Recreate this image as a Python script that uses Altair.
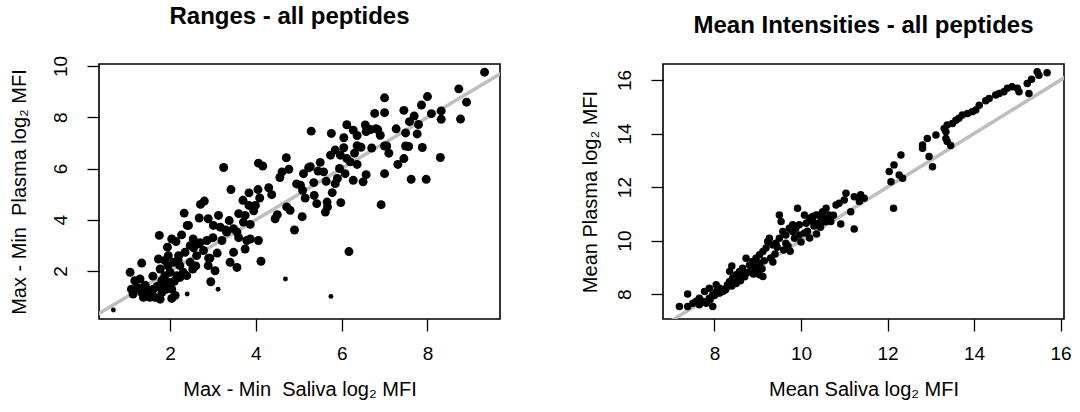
import altair as alt
import pandas as pd

# ---------------- data: left panel (ranges) ----------------
range_saliva = [
    9.33, 8.73, 8.91, 8.77, 8.32, 8.32, 8.00, 7.86, 8.09, 7.45, 7.00, 7.00, 6.77, 7.69, 7.58, 7.79,
    7.27, 7.49, 7.76, 6.80, 6.84, 6.67, 6.55, 6.57, 7.00, 7.05, 7.49, 7.56, 7.88, 7.45, 7.31, 8.30,
    7.62, 7.97, 7.00, 6.92, 6.17, 6.12, 6.27, 6.36, 6.36, 6.45, 6.05, 5.76, 5.29, 6.05, 5.85, 5.74,
    5.97, 6.12, 6.20, 6.36, 5.50, 5.27, 5.11, 5.23, 5.58, 5.35, 5.64, 5.85, 5.90, 6.08, 6.27, 6.50,
    6.57, 5.04, 5.09, 5.15, 5.36, 5.42, 5.66, 5.67, 5.62, 5.78, 5.98, 5.08, 4.72, 4.80, 4.45, 4.71,
    4.77, 4.61, 4.56, 4.06, 4.16, 3.25, 4.30, 4.37, 4.05, 4.09, 3.84, 3.70, 3.84, 3.99, 3.42, 2.80,
    2.71, 2.33, 2.40, 2.68, 2.89, 3.13, 3.01, 3.17, 3.38, 3.60, 3.75, 3.87, 3.71, 3.48, 3.56, 3.32,
    3.21, 3.79, 4.06, 4.12, 3.40, 3.56, 3.48, 3.75, 3.87, 1.75, 2.04, 2.14, 2.27, 2.43, 2.54, 2.66,
    2.86, 2.47, 2.35, 2.62, 2.78, 2.93, 2.89, 3.05, 2.95, 2.53, 1.94, 1.96, 1.88, 1.77, 1.73, 2.08,
    2.19, 2.23, 2.31, 2.16, 2.00, 1.88, 1.81, 1.73, 1.61, 1.81, 1.92, 2.04, 1.77, 1.65, 1.46, 1.34,
    1.38, 1.30, 1.18, 1.07, 1.10, 1.14, 1.53, 1.34, 2.04, 2.23, 2.39, 2.47, 1.85, 1.70, 1.55, 1.42,
    1.25, 2.10, 2.55, 2.70, 3.00, 3.30, 3.10, 2.60, 2.20, 1.95, 6.70, 6.90, 7.10, 6.30, 5.95, 5.45,
    4.95, 4.50, 4.90, 3.60, 3.95, 2.90, 1.60, 1.50, 1.98, 2.12,
]
range_plasma = [
    9.76, 9.11, 8.59, 7.93, 8.25, 7.92, 8.81, 8.48, 8.14, 8.27, 8.76, 8.18, 8.15, 8.05, 7.83, 7.72,
    7.55, 7.39, 7.35, 7.55, 7.52, 7.52, 7.70, 7.44, 6.88, 6.88, 6.88, 6.86, 6.82, 6.39, 6.16, 6.43,
    5.58, 5.58, 5.80, 4.59, 2.76, 7.71, 7.50, 7.29, 6.89, 6.83, 7.20, 7.37, 7.46, 6.81, 6.72, 6.52,
    6.52, 6.39, 6.26, 6.16, 6.24, 6.07, 5.80, 6.03, 5.87, 5.45, 5.50, 5.41, 5.61, 5.80, 5.54, 5.48,
    5.76, 5.35, 5.15, 4.85, 4.95, 4.63, 4.69, 4.50, 4.30, 5.06, 4.67, 4.12, 4.50, 4.37, 4.04, 6.42,
    5.97, 5.87, 5.65, 6.21, 6.10, 6.04, 5.25, 4.98, 5.18, 4.85, 5.05, 4.76, 4.56, 4.56, 5.18, 4.73,
    4.60, 4.26, 3.78, 4.07, 4.04, 4.17, 3.78, 3.71, 3.97, 4.24, 4.17, 3.82, 3.91, 3.65, 3.52, 3.52,
    3.19, 3.19, 3.19, 2.38, 2.34, 2.14, 2.73, 2.86, 3.25, 3.39, 3.25, 3.15, 3.41, 3.78, 3.25, 3.06,
    3.19, 2.99, 2.73, 2.60, 2.80, 2.50, 2.21, 2.01, 1.58, 2.08, 2.93, 2.60, 2.41, 2.08, 2.47, 2.34,
    2.41, 2.21, 1.95, 1.82, 1.95, 1.82, 1.62, 1.42, 1.29, 1.16, 1.29, 1.29, 0.90, 0.97, 1.29, 1.16,
    0.97, 1.69, 1.62, 1.95, 1.29, 1.10, 0.97, 2.31, 0.93, 1.75, 1.82, 2.34, 1.50, 1.40, 1.20, 1.45,
    1.35, 1.60, 2.90, 3.10, 3.30, 3.60, 2.70, 2.20, 2.60, 2.20, 6.80, 7.30, 6.60, 6.60, 6.00, 5.90,
    5.40, 4.20, 3.60, 3.30, 4.35, 2.50, 1.80, 1.05, 1.55, 1.05,
]
# smaller dots in the left panel
range_small_saliva = [4.69, 5.75, 3.12, 0.68, 2.40]
range_small_plasma = [1.69, 1.01, 1.29, 0.48, 1.10]

# ---------------- data: right panel (mean intensities) ----------------
mean_saliva = [
    15.69, 15.46, 15.50, 15.33, 15.23, 15.27, 15.04, 15.00, 14.88, 14.77, 14.69, 14.58, 14.50, 14.35,
    14.27, 14.12, 14.04, 13.96, 13.85, 13.73, 13.65, 13.58, 13.50, 13.38, 13.31, 13.35, 13.35, 13.38,
    13.46, 13.12, 12.92, 12.81, 12.81, 12.96, 13.04, 12.31, 12.15, 12.04, 12.08, 12.27, 12.35, 12.14,
    11.46, 11.38, 11.35, 11.23, 11.04, 11.00, 10.88, 10.81, 11.15, 11.23, 10.92, 10.58, 10.50, 10.42,
    10.35, 10.27, 10.65, 10.69, 10.58, 10.46, 10.35, 10.27, 10.19, 10.12, 10.08, 10.36, 9.92, 9.96,
    9.88, 9.81, 9.81, 9.73, 9.65, 9.85, 9.96, 10.08, 9.50, 9.54, 9.58, 9.50, 9.42, 9.35, 9.23, 9.27,
    9.19, 9.12, 9.04, 8.96, 8.88, 8.81, 8.96, 9.04, 9.12, 8.88, 8.73, 8.65, 8.58, 8.50, 8.42, 8.35,
    8.27, 8.19, 8.12, 8.04, 7.96, 7.88, 7.81, 7.73, 7.65, 7.50, 7.38, 7.38, 7.19, 7.96, 8.12, 8.35,
    8.04, 7.88, 7.77, 7.65, 7.58, 8.20, 8.30, 8.45, 8.55, 8.65, 8.75, 8.85, 8.95, 9.05, 9.15, 9.30,
    9.40, 9.60, 9.70, 8.10, 8.00, 8.40, 8.60, 8.90, 9.10, 9.35, 9.75, 10.00, 10.20, 10.45, 10.55,
    10.75, 10.62, 10.40, 10.15, 7.90, 8.25, 8.50, 8.70, 9.00, 8.40, 9.45, 9.65, 10.30, 10.50,
]
mean_plasma = [
    16.27, 16.31, 16.18, 16.03, 15.87, 15.50, 15.56, 15.69, 15.75, 15.69, 15.56, 15.50, 15.44, 15.31,
    15.23, 15.06, 14.88, 14.82, 14.75, 14.69, 14.57, 14.50, 14.38, 14.32, 14.19, 14.07, 13.82, 13.70,
    13.55, 13.95, 13.82, 13.57, 13.45, 13.14, 12.76, 13.20, 12.83, 12.58, 12.20, 12.45, 12.33, 11.21,
    11.58, 11.71, 11.46, 11.64, 11.77, 11.52, 11.40, 11.33, 11.08, 10.43, 10.62, 11.21, 11.08, 10.96,
    10.96, 10.90, 10.96, 10.71, 10.71, 10.71, 10.59, 10.71, 10.84, 10.65, 10.96, 10.25, 11.21, 10.59,
    10.46, 10.34, 10.59, 10.46, 10.21, 10.09, 10.21, 10.28, 10.96, 10.71, 10.34, 10.09, 9.90, 9.84,
    9.97, 10.09, 9.72, 9.59, 9.47, 9.34, 9.22, 9.09, 8.97, 8.72, 8.66, 8.85, 9.34, 8.97, 8.85, 8.72,
    8.60, 8.47, 8.22, 8.10, 8.22, 8.10, 7.98, 7.85, 7.66, 7.73, 7.60, 7.66, 8.00, 7.54, 7.54, 7.54,
    8.04, 8.85, 8.35, 8.22, 8.10, 7.85, 7.73, 8.15, 8.35, 8.45, 8.55, 8.70, 8.80, 8.95, 9.05, 9.15,
    9.25, 9.35, 9.50, 9.65, 9.80, 8.05, 7.95, 8.30, 8.50, 8.75, 8.95, 9.20, 9.60, 9.95, 10.10, 10.50,
    10.70, 10.95, 10.80, 10.65, 10.35, 7.80, 8.15, 8.40, 8.65, 8.85, 9.05, 9.75, 9.90, 10.55, 10.85,
]

# identity reference lines (y = x), drawn over the full axis ranges
left_ref = [0.0, 10.5]
right_ref = [6.5, 16.5]

# axis tick values
left_x_ticks = [2, 4, 6, 8]
left_y_ticks = [2, 4, 6, 8, 10]
right_ticks = [8, 10, 12, 14, 16]

FONT = "Liberation Sans"
SP = " \u00a0"  # double space as in the original labels

df_left = pd.DataFrame({"x": range_saliva, "y": range_plasma})
df_left_small = pd.DataFrame({"x": range_small_saliva, "y": range_small_plasma})
df_right = pd.DataFrame({"x": mean_saliva, "y": mean_plasma})
df_lref = pd.DataFrame({"x": left_ref, "y": left_ref})
df_rref = pd.DataFrame({"x": right_ref, "y": right_ref})


def axis(title, values, orient, tpad=22):
    kw = dict(
        title=title, values=values, grid=False, domain=False,
        tickColor="black", tickSize=12, tickWidth=1.3,
        labelFont=FONT, labelFontSize=19, labelColor="black",
        titleFont=FONT, titleFontSize=20, titleFontWeight="normal", titleColor="black",
    )
    if orient == "y":
        kw.update(labelAngle=-90, labelPadding=17, titlePadding=tpad,
                  labelAlign="center", labelBaseline="bottom")
    else:
        kw.update(labelPadding=13, titlePadding=16)
    return alt.Axis(**kw)


def panel(df, small, ref, xdom, ydom, xt, yt, xtitle, ytitle, title, size, tpad, tdx):
    xs = alt.Scale(domain=xdom, nice=False, zero=False)
    ys = alt.Scale(domain=ydom, nice=False, zero=False)
    line = alt.Chart(ref).mark_line(color="#bebebe", strokeWidth=3.5, clip=True).encode(
        x=alt.X("x:Q", scale=xs, axis=axis(xtitle, xt, "x")),
        y=alt.Y("y:Q", scale=ys, axis=axis(ytitle, yt, "y", tpad)),
    )
    pts = alt.Chart(df).mark_circle(color="black", opacity=1, size=size).encode(
        x=alt.X("x:Q", scale=xs), y=alt.Y("y:Q", scale=ys)
    )
    layers = [line, pts]
    if small is not None:
        layers.append(
            alt.Chart(small).mark_circle(color="black", opacity=1, size=24).encode(
                x=alt.X("x:Q", scale=xs), y=alt.Y("y:Q", scale=ys)
            )
        )
    return alt.layer(*layers).properties(
        width=401, height=255,
        title=alt.TitleParams(title, font=FONT, fontSize=24, fontWeight="bold",
                              color="black", anchor="middle", offset=26, dx=tdx),
    )


left = panel(df_left, df_left_small, df_lref, [0.345, 9.69], [0.127, 10.08],
             left_x_ticks, left_y_ticks,
             "Max - Min" + SP + "Saliva log\u2082 MFI", "Max - Min" + SP + "Plasma log\u2082 MFI",
             "Ranges - all peptides", 80, 22, -10)
right = panel(df_right, None, df_rref, [6.81, 16.08], [7.07, 16.6],
              right_ticks, right_ticks,
              "Mean Saliva log\u2082 MFI", "Mean Plasma log\u2082 MFI",
              "Mean Intensities - all peptides", 56, 15, 0)

chart = alt.hconcat(
    left, right, spacing=78, background="white",
    padding={"left": 8, "top": 4, "right": 5, "bottom": 5},
).configure_view(stroke="black", strokeWidth=1.6)

chart.save("out.html", embed_options={"renderer": "svg", "actions": False})
